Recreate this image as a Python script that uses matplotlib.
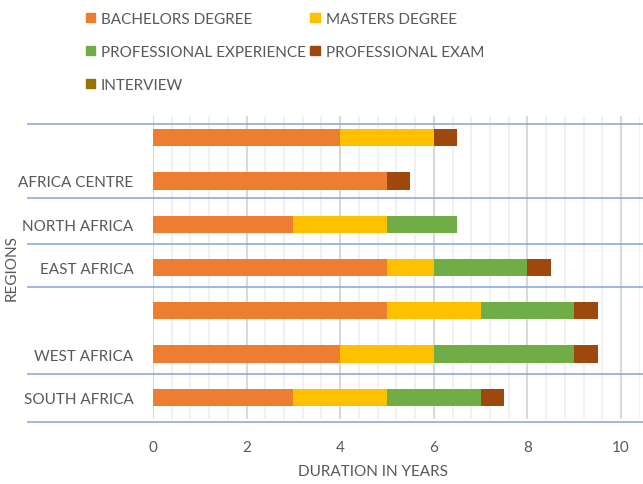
import matplotlib
matplotlib.use("Agg")
import matplotlib.pyplot as plt
import numpy as np
from matplotlib.patches import Patch
from matplotlib.transforms import blended_transform_factory
from matplotlib.ticker import MultipleLocator

plt.rcParams['font.family'] = ['Lato', 'DejaVu Sans']

regions = ["SOUTH AFRICA", "WEST AFRICA", "", "EAST AFRICA", "NORTH AFRICA", "AFRICA CENTRE", ""]
bachelors = [3, 4, 5, 5, 3, 5, 4]
masters = [2, 2, 2, 1, 2, 0, 2]
experience = [2, 3, 2, 2, 1.5, 0, 0]
exam = [0.5, 0.5, 0.5, 0.5, 0, 0.5, 0.5]
interview = [0, 0, 0, 0, 0, 0, 0]

series_names = ["BACHELORS DEGREE", "MASTERS DEGREE", "PROFESSIONAL EXPERIENCE",
                "PROFESSIONAL EXAM", "INTERVIEW"]
series = [bachelors, masters, experience, exam, interview]
colors = ["#ED7D31", "#FFC000", "#70AD47", "#9E480E", "#997300"]

# group separator lines (in category units)
separators = [-0.565, 0.542, 2.55, 3.54, 4.60, 6.31]

text_color = "#595959"
fs = 11

fig = plt.figure(figsize=(6.43, 4.85), dpi=100)
ax = fig.add_axes([153/643, 65/485, (639.7-153)/643, 303/485])

y = np.arange(len(regions))
left = np.zeros(len(regions))
for name, vals, c in zip(series_names, series, colors):
    vals = np.array(vals, dtype=float)
    ax.barh(y, vals, left=left, height=0.4, color=c, label=name, zorder=3)
    left += vals

ax.set_xlim(0, 10.4)
ax.set_ylim(-0.5, 6.5)
ax.set_xticks([0, 2, 4, 6, 8, 10])
ax.xaxis.set_minor_locator(MultipleLocator(0.4))
ax.grid(axis='x', which='major', color='#D9D9D9', lw=1.5, zorder=0)
ax.grid(axis='x', which='minor', color='#EFEFEF', lw=1.2, zorder=0)
ax.set_axisbelow(True)
ax.set_yticks(y)
ax.set_yticklabels(regions)
ax.tick_params(axis='both', which='both', length=0, colors=text_color, labelsize=fs)
ax.tick_params(axis='y', pad=14)
ax.tick_params(axis='x', pad=15)
for s in ax.spines.values():
    s.set_visible(False)

trans = blended_transform_factory(fig.transFigure, ax.transData)
for sy in separators:
    ax.plot([28/643, 1.0], [sy, sy], transform=trans, color='#8FAADC', lw=1.2,
            clip_on=False, zorder=4)

fig.text(12/643, 1 - 268/485, "REGIONS", rotation=90, va='center', ha='center',
         color=text_color, fontsize=fs)
fig.text(373/643, 1 - 472/485, "DURATION IN YEARS", va='center', ha='center',
         color=text_color, fontsize=fs)

handles = [Patch(color=c) for c in colors]
order = [0, 2, 4, 1, 3]
fig.legend([handles[i] for i in order], [series_names[i] for i in order],
           ncol=2, loc='upper left', bbox_to_anchor=(72/643, 1 + 1/485),
           frameon=False, fontsize=fs, labelcolor=text_color,
           handlelength=0.6, handleheight=0.6, handletextpad=0.4,
           columnspacing=0.3, labelspacing=1.25)

fig.savefig("out.png", dpi=100)
